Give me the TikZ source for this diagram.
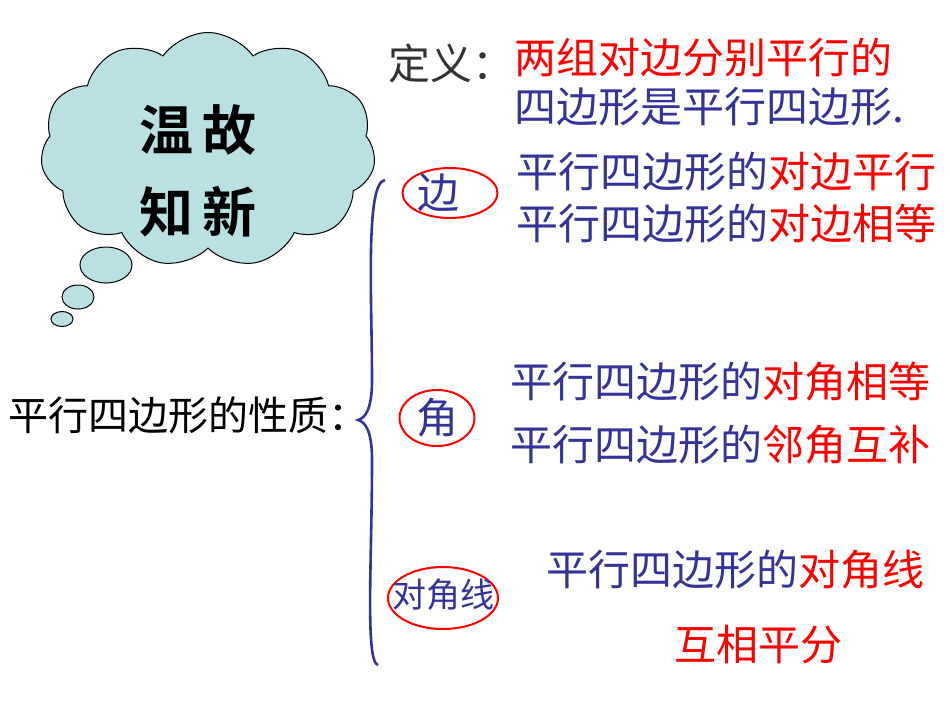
\documentclass[tikz,border=0pt]{standalone}
\usepackage{fontspec}
\setmainfont{Noto Sans CJK SC}
\newfontfamily\boldcjk{Noto Sans CJK SC Bold}
\usetikzlibrary{shapes.symbols,shapes.geometric}
\definecolor{tblue}{RGB}{51,51,153}
\definecolor{tred}{RGB}{255,0,0}
\definecolor{cloudc}{RGB}{185,224,226}
\begin{document}
\begin{tikzpicture}[x=1pt,y=-1pt,
  txt/.style={anchor=west,inner sep=0,font=\fontsize{42}{46}\selectfont},
  oval/.style={draw=tred,line width=2pt,ellipse,inner sep=0},
  bub/.style={draw=black,line width=1pt,fill=cloudc,ellipse,inner sep=0}]
\useasboundingbox (0,0) rectangle (950,713);
\node[cloud,cloud puffs=11,cloud puff arc=110,aspect=1.3,draw,line width=1pt,fill=cloudc,minimum width=335,minimum height=235] (cl) at (208,150) {};
\node[bub,minimum width=52,minimum height=36] (b1) at (106,265) {};
\node[bub,minimum width=32,minimum height=24] (b2) at (78,297) {};
\node[bub,minimum width=22,minimum height=15] (b3) at (62,319) {};
\node[inner sep=0,font=\boldcjk\fontsize{54}{58}\selectfont] (t1) at (198,130) {温\,故};
\node[inner sep=0,font=\boldcjk\fontsize{54}{58}\selectfont] (t2) at (198,212) {知\,新};
\node[txt,text=black!80] (def) at (388,63) {定义：};
\node[txt,text=tred] (d1) at (514,58) {两组对边分别平行的};
\node[txt,text=tblue] (d2) at (514,107) {四边形是平行四边形.};
\node[txt,text=black,font=\fontsize{40}{44}\selectfont] (prop) at (8,415) {平行四边形的性质：};
\draw[tblue,line width=2.6pt] (385,180) .. controls (365,182) and (372,300) .. (372,380) .. controls (372,410) and (365,418) .. (358,420) .. controls (365,422) and (372,430) .. (372,460) .. controls (372,560) and (365,662) .. (378,665);
\node[oval,minimum width=95,minimum height=50] (e1) at (450,193) {};
\node[txt,text=tblue,anchor=center] (l1) at (438,193) {边};
\node[oval,minimum width=75,minimum height=56] (e2) at (437,418) {};
\node[txt,text=tblue,anchor=center] (l2) at (437,418) {角};
\node[oval,minimum width=110,minimum height=62] (e3) at (443,598) {};
\node[inner sep=0,text=tblue,font=\fontsize{34}{38}\selectfont] (l3) at (443,595) {对角线};
\node[txt,text=tblue] (a1) at (516,172) {平行四边形的\textcolor{tred}{对边平行}};
\node[txt,text=tblue] (a2) at (516,224) {平行四边形的\textcolor{tred}{对边相等}};
\node[txt,text=tblue] (a3) at (510,382) {平行四边形的\textcolor{tred}{对角相等}};
\node[txt,text=tblue] (a4) at (510,445) {平行四边形的\textcolor{tred}{邻角互补}};
\node[txt,text=tblue] (a5) at (546,570) {平行四边形的\textcolor{tred}{对角线}};
\node[txt,text=tred] (a6) at (674,645) {互相平分};
\end{tikzpicture}
\end{document}
